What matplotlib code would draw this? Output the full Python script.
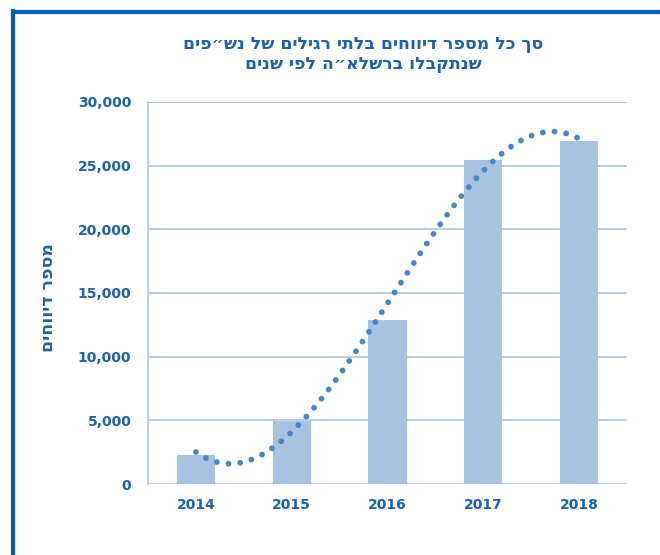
import numpy as np
import matplotlib
matplotlib.use("Agg")
import matplotlib.pyplot as plt
from matplotlib.lines import Line2D
from matplotlib.ticker import FuncFormatter

years = ["2014", "2015", "2016", "2017", "2018"]
reports = [2300, 4950, 12900, 25450, 26900]
yticks = [0, 5000, 10000, 15000, 20000, 25000, 30000]
title_line1 = "סך כל מספר דיווחים בלתי רגילים של נש״פים"
title_line2 = "שנתקבלו ברשלא״ה לפי שנים"
ylabel_text = "מספר דיווחים"


def vis(s):
    # matplotlib has no bidi support: reverse Hebrew for visual order
    return s[::-1]


dark = "#1f5fae"
bar_col = "#a7c3e1"
grid_col = "#a9c4e2"
dot_col = "#4a86c6"

plt.rcParams["font.family"] = ["DejaVu Sans"]
fig = plt.figure(figsize=(6.6, 5.55), dpi=100)
ax = fig.add_axes([148 / 660, 1 - 484 / 555, (627 - 148) / 660, (484 - 102) / 555])

x = np.arange(len(years))
ax.bar(x, reports, width=0.4, color=bar_col, zorder=2)

# polynomial (order 3) trendline, as in the original spreadsheet
coef = np.polyfit(x, reports, 3)
xs = np.linspace(x[0], x[-1], 400)
ax.plot(xs, np.polyval(coef, xs), color=dot_col, lw=4.2,
        linestyle=(0, (0.01, 2.0)), dash_capstyle="round", zorder=3)

ax.set_xlim(-0.5, len(years) - 0.5)
ax.set_ylim(0, 30000)
ax.set_yticks(yticks)
ax.yaxis.set_major_formatter(FuncFormatter(lambda v, p: f"{int(v):,}"))
ax.set_xticks(x)
ax.set_xticklabels(years)
ax.grid(axis="y", color=grid_col, lw=1.2, zorder=0)
ax.set_axisbelow(True)
for s in ["top", "right", "bottom"]:
    ax.spines[s].set_visible(False)
ax.spines["left"].set_color(grid_col)
ax.spines["left"].set_linewidth(1.2)
ax.tick_params(axis="both", length=0, labelsize=10, labelcolor=dark)
ax.tick_params(axis="y", pad=12)
ax.tick_params(axis="x", pad=10)
for lab in ax.get_xticklabels() + ax.get_yticklabels():
    lab.set_fontweight("bold")

fig.text(363 / 660, 1 - 44 / 555, vis(title_line1), ha="center", va="center",
         fontsize=12.4, fontweight="bold", color=dark)
fig.text(363 / 660, 1 - 64 / 555, vis(title_line2), ha="center", va="center",
         fontsize=12.4, fontweight="bold", color=dark)
fig.text(48 / 660, 1 - 298 / 555, vis(ylabel_text), ha="center", va="center",
         rotation=90, fontsize=12.5, fontweight="bold", color=dark)

# frame lines (top and left)
fig.add_artist(Line2D([13 / 660, 1.0], [1 - 12 / 555, 1 - 12 / 555],
                      transform=fig.transFigure, color="#0a5bb5", lw=3))
fig.add_artist(Line2D([13 / 660, 13 / 660], [0, 1 - 11 / 555],
                      transform=fig.transFigure, color="#0a5bb5", lw=3))

fig.savefig("out.png", dpi=100, facecolor="white")
